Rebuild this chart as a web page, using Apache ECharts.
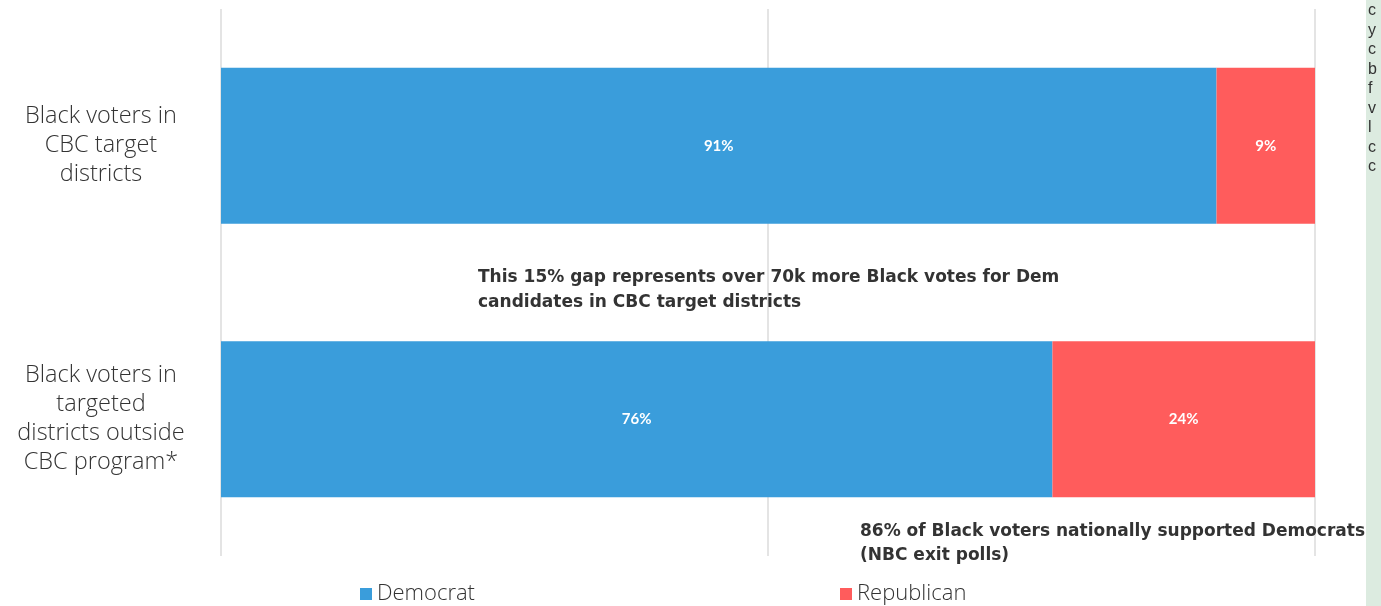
<!DOCTYPE html>
<html>
<head>
<meta charset="utf-8">
<script src="https://cdn.jsdelivr.net/npm/echarts@6/dist/echarts.min.js"></script>
<style>
html,body{margin:0;padding:0;background:#fff;}
#chart{width:1381px;height:606px;}
</style>
</head>
<body>
<div id="chart"></div>
<script>
const categories = ['Black voters in\nCBC target\ndistricts', 'Black voters in\ntargeted\ndistricts outside\nCBC program*'];
const democrat = [91, 76];
const republican = [9, 24];
const seriesNames = ['Democrat', 'Republican'];
const annotation1 = 'This 15% gap represents over 70k more Black votes for Dem\ncandidates in CBC target districts';
const annotation2 = '86% of Black voters nationally supported Democrats\n(NBC exit polls)';
const sideLetters = 'c\ny\nc\nb\nf\nv\nl\nc\nc';

const chart = echarts.init(document.getElementById('chart'));
const labelFont = {color: '#ffffff', fontFamily: 'Lato, sans-serif', fontWeight: 'bold', fontSize: 15};
const lightFont = '"Open Sans", Lato, sans-serif';
chart.setOption({
  animation: false,
  grid: {left: 221, right: 66, top: 9, bottom: 50, containLabel: false},
  xAxis: {
    type: 'value', min: 0, max: 100, interval: 50,
    axisLabel: {show: false}, axisLine: {show: false}, axisTick: {show: false},
    splitLine: {show: true, lineStyle: {color: '#e4e4e4', width: 2}}
  },
  yAxis: {
    type: 'category', inverse: true, data: categories,
    axisLine: {show: false}, axisTick: {show: false},
    axisLabel: {
      margin: 120, align: 'center', color: '#333',
      fontFamily: lightFont, fontWeight: 300, fontSize: 23.5, lineHeight: 29
    }
  },
  legend: [
    {data: [seriesNames[0]], left: 355, top: 578, icon: 'rect', itemWidth: 12, itemHeight: 12, itemGap: 6,
     textStyle: {color: '#333', fontFamily: lightFont, fontWeight: 300, fontSize: 22}},
    {data: [seriesNames[1]], left: 835, top: 578, icon: 'rect', itemWidth: 12, itemHeight: 12, itemGap: 6,
     textStyle: {color: '#333', fontFamily: lightFont, fontWeight: 300, fontSize: 22}}
  ],
  series: [
    {name: seriesNames[0], type: 'bar', stack: 'total', data: democrat, barWidth: '57%',
     itemStyle: {color: '#3a9ddb'},
     label: Object.assign({show: true, position: 'inside', formatter: '{c}%'}, labelFont)},
    {name: seriesNames[1], type: 'bar', stack: 'total', data: republican, barWidth: '57%',
     itemStyle: {color: '#ff5c5c'},
     label: Object.assign({show: true, position: 'inside', formatter: '{c}%'}, labelFont)}
  ],
  graphic: [
    {type: 'text', left: 478, top: 265, z: 10,
     style: {text: annotation1, fill: '#333', font: 'bold 17px "DejaVu Sans", sans-serif', lineHeight: 25}},
    {type: 'text', left: 860, top: 520, z: 10,
     style: {text: annotation2, fill: '#333', font: 'bold 17px "DejaVu Sans", sans-serif', lineHeight: 24}},
    {type: 'rect', left: 1366, top: 0, z: 5, shape: {width: 20, height: 606}, style: {fill: '#dcebe0'}},
    {type: 'text', left: 1368, top: 1, z: 6,
     style: {text: sideLetters, fill: '#333', font: '16px "Liberation Sans", Arial, sans-serif', lineHeight: 19.5}}
  ]
});
</script>
</body>
</html>
